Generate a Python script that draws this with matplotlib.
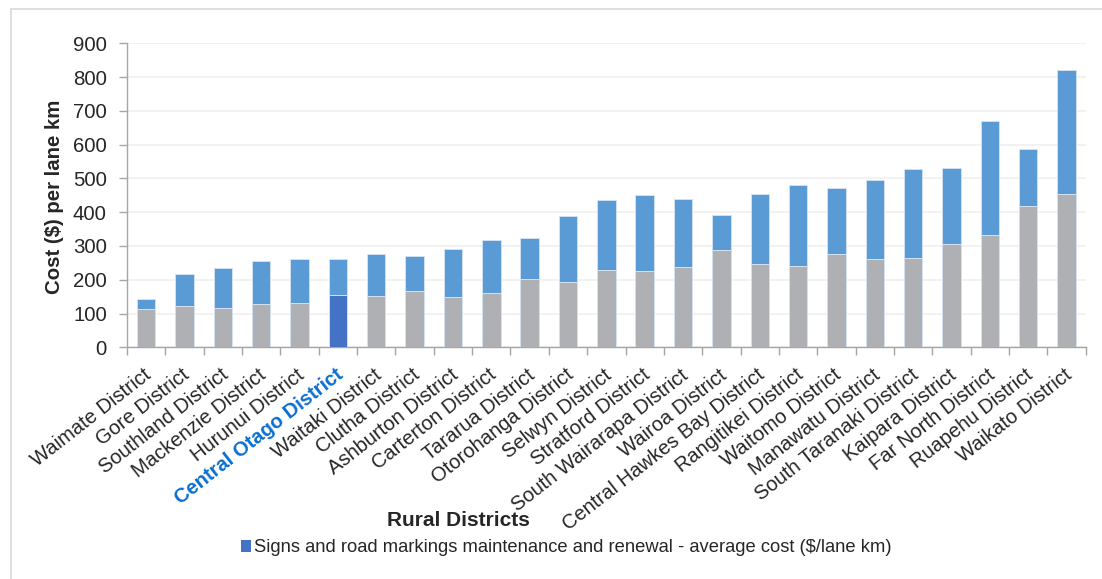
import matplotlib
matplotlib.use("Agg")
import matplotlib.pyplot as plt
from matplotlib.lines import Line2D
from matplotlib.patches import Patch
from matplotlib.ticker import FixedLocator, NullFormatter
from matplotlib.transforms import ScaledTranslation

plt.rcParams['font.family'] = ['Liberation Sans', 'DejaVu Sans']

districts = [
    "Waimate District", "Gore District", "Southland District", "Mackenzie District",
    "Hurunui District", "Central Otago District", "Waitaki District", "Clutha District",
    "Ashburton District", "Carterton District", "Tararua District", "Otorohanga District",
    "Selwyn District", "Stratford District", "South Wairarapa District", "Wairoa District",
    "Central Hawkes Bay District", "Rangitikei District", "Waitomo District",
    "Manawatu District", "South Taranaki District", "Kaipara District",
    "Far North District", "Ruapehu District", "Waikato District",
]
# Signs and road markings cost ($/lane km) - lower segment
signs_cost = [113, 122, 117, 127, 130, 155, 153, 168, 149, 160, 201, 194, 230,
              225, 238, 288, 247, 240, 276, 262, 264, 306, 332, 418, 453]
# Total cost ($/lane km) - top of each stacked bar
total_cost = [142, 217, 235, 255, 260, 260, 275, 270, 291, 318, 325, 390, 436,
              450, 440, 393, 453, 480, 471, 496, 529, 530, 669, 586, 822]
highlight = "Central Otago District"
y_ticks = [0, 100, 200, 300, 400, 500, 600, 700, 800, 900]
legend_text = "Signs and road markings maintenance and renewal - average cost ($/lane km)"

GREY = "#AFB0B3"
BLUE = "#5B9BD5"
DARK = "#4472C4"
EDGE = "#D3E1F1"
TEXT = "#262626"

W, H = 1102, 579
fig = plt.figure(figsize=(W / 100, H / 100), dpi=100)
fig.patch.set_facecolor("white")

left, right, bottom, top = 127, 1085.7, 347.3, 43.3
ax = fig.add_axes([left / W, 1 - bottom / H, (right - left) / W, (bottom - top) / H])

x = list(range(len(districts)))
upper = [t - s for t, s in zip(total_cost, signs_cost)]
lower_colors = [DARK if d == highlight else GREY for d in districts]

ax.bar(x, signs_cost, width=0.48, color=lower_colors, edgecolor=EDGE, linewidth=0.7, zorder=3)
ax.bar(x, upper, bottom=signs_cost, width=0.48, color=BLUE, edgecolor=EDGE, linewidth=0.7, zorder=3)

ax.set_xlim(-0.5, len(districts) - 0.5)
ax.set_ylim(0, 900)
ax.set_yticks(y_ticks)
ax.tick_params(axis="y", labelsize=14.7, length=6, color="#A6A6A6", width=1,
               labelcolor=TEXT, pad=8.5)
ax.yaxis.grid(True, color="#F0F0F0", linewidth=1.2, zorder=0)
ax.set_axisbelow(True)

for s in ("top", "right"):
    ax.spines[s].set_visible(False)
for s in ("left", "bottom"):
    ax.spines[s].set_color("#A6A6A6")
    ax.spines[s].set_linewidth(1)

# category labels at bar centres, tick marks at category boundaries
ax.set_xticks(x)
ax.set_xticklabels(districts, rotation=38, ha="right", rotation_mode="anchor", fontsize=14.5,
                   color=TEXT)
ax.tick_params(axis="x", which="major", length=0, pad=13)
ax.xaxis.set_minor_locator(FixedLocator([i - 0.5 for i in range(len(districts) + 1)]))
ax.xaxis.set_minor_formatter(NullFormatter())
ax.tick_params(axis="x", which="minor", length=6, color="#A6A6A6", width=1)
shift = ScaledTranslation(-3 / 100, 0, fig.dpi_scale_trans)
for lbl in ax.get_xticklabels():
    lbl.set_transform(lbl.get_transform() + shift)
    if lbl.get_text() == highlight:
        lbl.set_color("#0A6FCF")
        lbl.set_fontweight("bold")

fig.text(55 / W, 1 - 197 / H, "Cost ($) per lane km", rotation=90, ha="center", va="center",
         fontsize=14.7, fontweight="bold", color=TEXT)
fig.text(458 / W, 1 - 521 / H, "Rural Districts", ha="center", va="center",
         fontsize=15, fontweight="bold", color=TEXT)

fig.legend(handles=[Patch(facecolor=DARK, edgecolor="none")], labels=[legend_text],
           loc="center left", bbox_to_anchor=(240.7 / W, 1 - 548 / H), frameon=False,
           fontsize=13.2, handlelength=0.55, handleheight=0.55, handletextpad=0.15,
           borderaxespad=0, borderpad=0, labelcolor=TEXT)

# thin frame around the chart area
fig.add_artist(Line2D([10.7 / W, 10.7 / W], [0, 1 - 9.3 / H], color="#D9D9D9", lw=1.2))
fig.add_artist(Line2D([10.7 / W, 1], [1 - 9.3 / H, 1 - 9.3 / H], color="#D9D9D9", lw=1.2))

fig.savefig("out.png", dpi=100)
